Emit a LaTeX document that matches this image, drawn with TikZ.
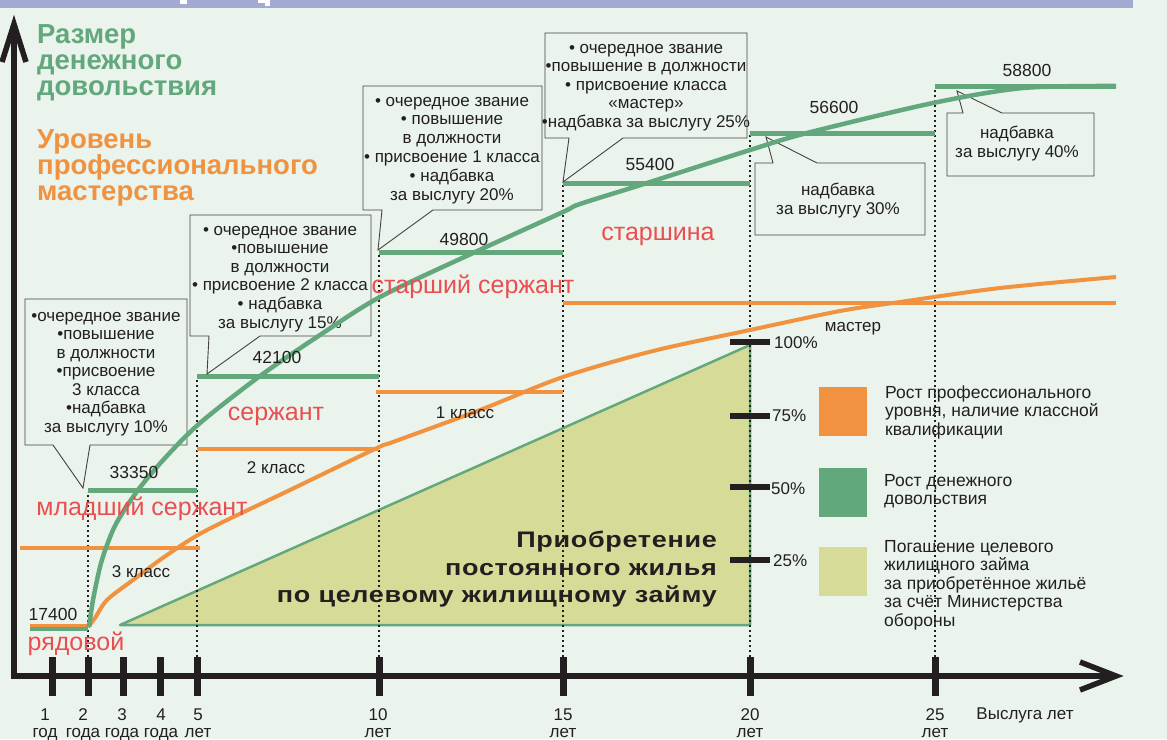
\documentclass[tikz,border=0pt]{standalone}
\usepackage{fontspec}
\setmainfont{Liberation Sans}
\newfontfamily\widebold{Liberation Sans Bold}[FakeStretch=1.2, LetterSpace=3]
\definecolor{bgc}{HTML}{EAF4EC}
\definecolor{barc}{HTML}{A3A9D1}
\definecolor{grn}{HTML}{62A87C}
\definecolor{org}{HTML}{F0923F}
\definecolor{rnk}{HTML}{EB4E50}
\definecolor{tri}{HTML}{D6DC97}
\definecolor{ink}{HTML}{231F20}
\begin{document}
\begin{tikzpicture}[x=1pt,y=-1pt,
  stepg/.style={grn, line width=5pt},
  stepo/.style={org, line width=4pt},
  curveg/.style={grn, line width=4.5pt, line join=round},
  curveo/.style={org, line width=4pt, line join=round},
  mydots/.style={ink, line width=1.6pt, dash pattern=on 1.6pt off 3.4pt},
  callbox/.style={draw=ink!85, line width=0.9pt, fill=bgc, line join=miter},
  callt/.style={font=\fontsize{17}{19}\selectfont, text=ink, inner sep=0, anchor=base},
  rank/.style={font=\fontsize{25}{30}\selectfont, text=rnk, inner sep=0, anchor=base},
  numl/.style={font=\fontsize{17.5}{20}\selectfont, text=ink, inner sep=0, anchor=base},
  clsl/.style={font=\fontsize{17}{18}\selectfont, text=ink, inner sep=0, anchor=base},
  tickl/.style={font=\fontsize{17}{18}\selectfont, text=ink, inner sep=0, anchor=base},
  pctl/.style={font=\fontsize{17}{18}\selectfont, text=ink, inner sep=0, anchor=base west},
  legt/.style={font=\fontsize{17.5}{18}\selectfont, text=ink, inner sep=0, anchor=base west},
  titleg/.style={font=\fontsize{27.5}{28}\selectfont\bfseries, text=grn, inner sep=0, anchor=base west},
  titleo/.style={font=\fontsize{27.5}{28}\selectfont\bfseries, text=org, inner sep=0, anchor=base west},
  trit/.style={font=\widebold\fontsize{22.5}{26}\selectfont, text=ink, inner sep=0, anchor=base east},
  axisl/.style={ink, line width=5.5pt},
  tickm/.style={ink, line width=7pt},
  pctm/.style={ink, line width=6pt},
]
\useasboundingbox (0,0) rectangle (1167,739);
\fill[bgc] (0,0) rectangle (1167,739);
% top bar
\fill[barc] (0,0) rectangle (1133,7.5);
\fill[white] (180,0) rectangle (187,4);
\fill[white] (258,0) rectangle (270,3);
\fill[white] (265,0) rectangle (270,6);

% triangle
\filldraw[fill=tri, draw=grn, line width=2.5pt, line join=round] (120,625) -- (750,625) -- (750,345) -- cycle;
\node[trit, name=tr1] at (717,547) {Приобретение};
\node[trit, name=tr2] at (717,575) {постоянного жилья};
\node[trit, name=tr3] at (717,602) {по целевому жилищному займу};

% legend
\fill[org] (819,387) rectangle (867,436);
\fill[grn] (819,468) rectangle (867,517);
\fill[tri] (819,547) rectangle (867,596);
\foreach \t [count=\i from 0] in {Рост профессионального, {уровня, наличие классной}, квалификации}
  \node[legt, name=lo\i] at (885,{398+18.5*\i}) {\t};
\foreach \t [count=\i from 0] in {Рост денежного, довольствия}
  \node[legt, name=lg\i] at (884,{486+18.5*\i}) {\t};
\foreach \t [count=\i from 0] in {Погашение целевого, жилищного займа, за приобретённое жильё, за счёт Министерства, обороны}
  \node[legt, name=ly\i] at (884,{552+18.5*\i}) {\t};

% dotted guides
\draw[mydots] (88,657) -- (88,492);
\draw[mydots] (197,657) -- (197,378);
\draw[mydots] (379,657) -- (379,254);
\draw[mydots] (563,657) -- (563,185);
\draw[mydots] (750,657) -- (750,135);
\draw[mydots] (935,657) -- (935,88);

% percent marks
\foreach \yy/\t/\lx/\ly in {342/100\%/774/348, 416/75\%/772/421, 487/50\%/771/494, 560/25\%/773/566}{
  \draw[pctm] (730,\yy) -- (770,\yy);
  \node[pctl, name=p\yy] at (\lx,\ly) {\t};
}

% orange steps
\draw[stepo] (20,548) -- (200,548);
\draw[stepo] (197,449) -- (379,449);
\draw[stepo] (376,392) -- (563,392);
\draw[stepo] (563,303) -- (1116,303);
% green steps
\draw[stepg] (30,628) -- (88,628);
\draw[stepo, line width=2.5pt] (30,625.5) -- (88,625.5);
\draw[stepg] (88,490) -- (197,490);
\draw[stepg] (197,376) -- (379,376);
\draw[stepg] (379,252) -- (563,252);
\draw[stepg] (563,183) -- (750,183);
\draw[stepg] (750,133) -- (935,133);
\draw[stepg] (935,86) -- (1116,86);

% callouts
\draw[callbox] (25,299) -- (187,299) -- (187,445) -- (90,445) -- (83,488) -- (53,445) -- (25,445) -- cycle;
\draw[callbox] (190,215) -- (371,215) -- (371,336) -- (260,336) -- (207,374) -- (209,336) -- (190,336) -- cycle;
\draw[callbox] (363,86) -- (542,86) -- (542,210) -- (433,210) -- (378,250) -- (382,210) -- (363,210) -- cycle;
\draw[callbox] (545,33) -- (747,33) -- (747,138) -- (623,138) -- (563,182) -- (569,138) -- (545,138) -- cycle;
\draw[callbox] (755,163) -- (773,163) -- (766,137) -- (817,163) -- (925,163) -- (925,235) -- (755,235) -- cycle;
\draw[callbox] (947,113) -- (963,113) -- (957,91) -- (1002,113) -- (1094,113) -- (1094,176) -- (947,176) -- cycle;

\foreach \t [count=\i from 0] in {•очередное звание, •повышение, в должности, •присвоение, 3 класса, •надбавка, за выслугу 10\%}
  \node[callt, name=ca\i] at (106,{321+18.5*\i}) {\t};
\foreach \t [count=\i from 0] in {• очередное звание, •повышение, в должности, • присвоение 2 класса, • надбавка, за выслугу 15\%}
  \node[callt, name=cb\i] at (280,{235+18.6*\i}) {\t};
\foreach \t [count=\i from 0] in {• очередное звание, • повышение, в должности, • присвоение 1 класса, • надбавка, за выслугу 20\%}
  \node[callt, name=cc\i] at (452,{106+18.8*\i}) {\t};
\foreach \t [count=\i from 0] in {• очередное звание, •повышение в должности, • присвоение класса, «мастер», •надбавка за выслугу 25\%}
  \node[callt, name=cd\i] at (646,{53+18.6*\i}) {\t};
\foreach \t [count=\i from 0] in {надбавка, за выслугу 30\%}
  \node[callt, name=ce\i] at (838,{195+19*\i}) {\t};
\foreach \t [count=\i from 0] in {надбавка, за выслугу 40\%}
  \node[callt, name=cf\i] at (1017,{138+19.5*\i}) {\t};

% curves
\draw[curveo] plot[smooth, tension=0.5] coordinates {(88,627) (95,618) (107,600) (133,580) (167,555) (207,530) (290,490) (377,448) (393,442) (480,410) (563,377) (653,351) (750,330) (840,311) (900,302) (1000,288) (1116,277)};
\draw[curveg] plot[smooth, tension=0.5] coordinates {(89,627) (93,600) (100,567) (107,545) (117,522) (138,490) (165,458) (200,423) (260,376) (320,335) (380,297) (473,253) (563,212) (580,204) (647,183) (750,150) (807,133) (933,103) (1023,88) (1116,86)};

% values
\node[numl, name=v1] at (53,620) {17400};
\node[numl, name=v2] at (134,478) {33350};
\node[numl, name=v3] at (277,363) {42100};
\node[numl, name=v4] at (464,245) {49800};
\node[numl, name=v5] at (650,170) {55400};
\node[numl, name=v6] at (834,113) {56600};
\node[numl, name=v7] at (1027,76) {58800};
% classes
\node[clsl, name=k3] at (141,577) {3 класс};
\node[clsl, name=k2] at (276,473) {2 класс};
\node[clsl, name=k1] at (465,418) {1 класс};
\node[clsl, name=km] at (853,331) {мастер};
% ranks
\node[rank, name=r1] at (76,650) {рядовой};
\node[rank, name=r2] at (142,515) {младший сержант};
\node[rank, name=r3] at (276,420) {сержант};
\node[rank, name=r4] at (473,293) {старший сержант};
\node[rank, name=r5] at (658,240) {старшина};
% titles
\foreach \t [count=\i from 0] in {Размер, денежного, довольствия}
  \node[titleg, name=tg\i] at (37,{43+26*\i}) {\t};
\foreach \t [count=\i from 0] in {Уровень, профессионального, мастерства}
  \node[titleo, name=to\i] at (37,{148+26*\i}) {\t};

% axes
\draw[axisl] (14,678.75) -- (14,26);
\draw[axisl, line join=miter] (2,62) -- (14,24) -- (26,62);
\draw[axisl] (11.25,676) -- (1114,676);
\draw[axisl, line join=miter] (1080,662) -- (1116,676) -- (1080,690);
\foreach \tx/\lx/\n/\w in {52/45/1/год, 88/83/2/года, 123/122/3/года, 160/161/4/года, 197/198/5/лет, 379/378/10/лет, 563/563/15/лет, 750/750/20/лет, 935/935/25/лет}{
  \draw[tickm] (\tx,657) -- (\tx,696);
  \node[tickl, name=tn\n] at (\lx,720) {\n};
  \node[tickl, name=tw\n] at (\lx,737) {\w};
}
\node[tickl, name=xlab] at (1025,719) {Выслуга лет};
\end{tikzpicture}
\end{document}
